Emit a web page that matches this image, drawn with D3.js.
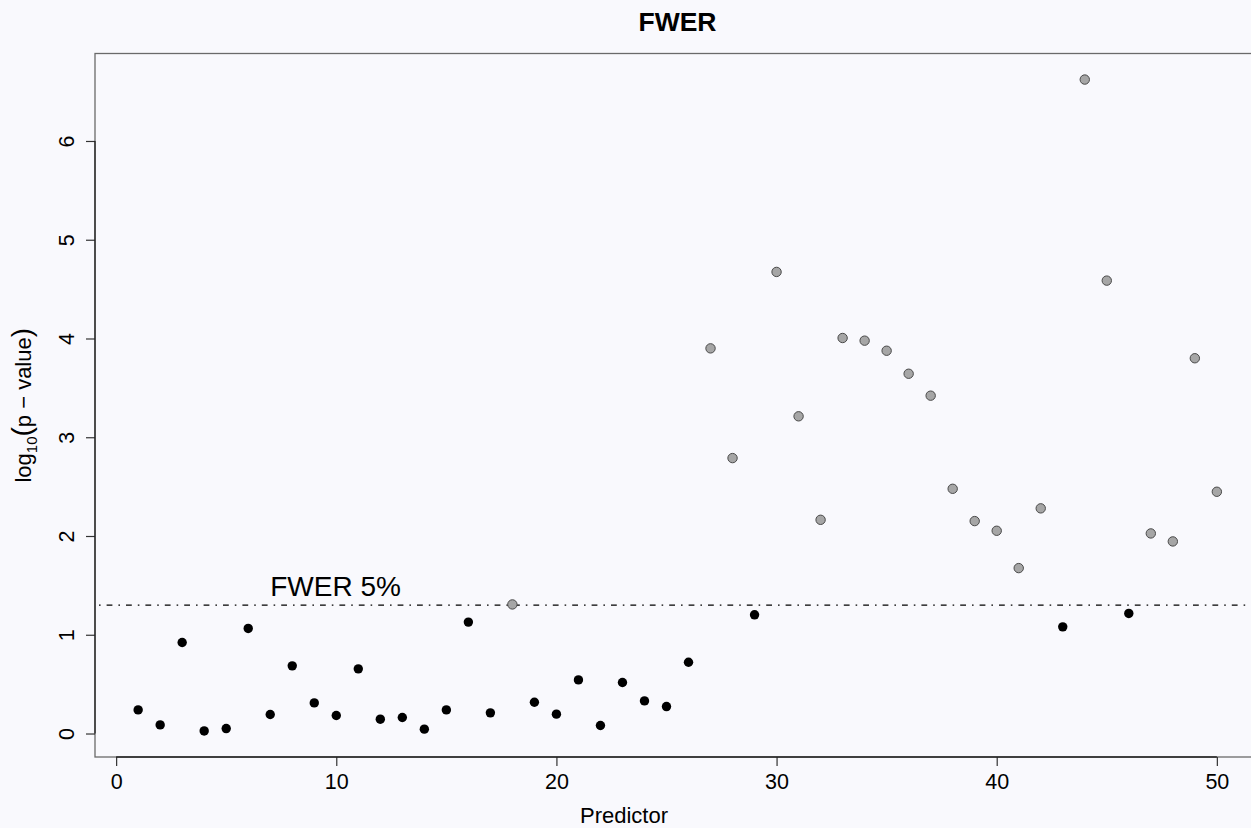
<!DOCTYPE html>
<html>
<head>
  <meta charset="utf-8">
  <title>FWER</title>
  <!-- Load D3-->
  <script src="https://d3js.org/d3.v7.min.js"></script>
  <style>
    body { margin: 0; background: #f9f9fd; }
    text { font-family: "Liberation Sans", Arial, Helvetica, sans-serif; fill: #000; }
  </style>
</head>
<body>
  <div id="viz"></div>
  <script>

    // data
    var predictor = [1, 2, 3, 4, 5, 6, 7, 8, 9, 10,
      11, 12, 13, 14, 15, 16, 17, 18, 19, 20,
      21, 22, 23, 24, 25, 26, 27, 28, 29, 30,
      31, 32, 33, 34, 35, 36, 37, 38, 39, 40,
      41, 42, 43, 44, 45, 46, 47, 48, 49, 50];

    var logp = [0.239, 0.087, 0.922, 0.026, 0.050, 1.064, 0.192, 0.685, 0.310, 0.182,
      0.655, 0.145, 0.162, 0.044, 0.239, 1.128, 0.209, 1.307, 0.317, 0.196,
      0.543, 0.081, 0.517, 0.330, 0.273, 0.722, 3.900, 2.789, 1.202, 4.674,
      3.212, 2.164, 4.005, 3.978, 3.876, 3.643, 3.421, 2.478, 2.151, 2.053,
      1.675, 2.280, 1.080, 6.622, 4.586, 1.216, 2.026, 1.945, 3.800, 2.448];

    var threshold = 1.301; // -log10(0.05)
    var xTicks = [0, 10, 20, 30, 40, 50];
    var yTicks = [0, 1, 2, 3, 4, 5, 6];

    var data = predictor.map(function (p, i) { return { x: p, y: logp[i] }; });

    var width = 1251, height = 828;

    var svg = d3.select("#viz")
      .append("svg")
      .attr("width", width)
      .attr("height", height);

    // R style 4% padding on the ranges
    var xe = d3.extent(predictor), ye = d3.extent(logp);
    var xp = (xe[1] - xe[0]) * 0.04, yp = (ye[1] - ye[0]) * 0.04;

    var x = d3.scaleLinear()
      .domain([xe[0] - xp, xe[1] + xp])
      .range([95, 1260]);

    var y = d3.scaleLinear()
      .domain([ye[0] - yp, ye[1] + yp])
      .range([757, 53.5]);

    // plot box
    svg.append("rect")
      .attr("x", x.range()[0])
      .attr("y", y.range()[1])
      .attr("width", x.range()[1] - x.range()[0])
      .attr("height", y.range()[0] - y.range()[1])
      .attr("fill", "none")
      .attr("stroke", "#6a6a6a")
      .attr("stroke-width", 1.3);

    // x axis
    var gx = svg.append("g")
      .attr("transform", "translate(0," + y.range()[0] + ")")
      .call(d3.axisBottom(x).tickValues(xTicks).tickSize(9).tickPadding(8).tickSizeOuter(0));
    gx.select(".domain").remove();
    gx.selectAll(".tick line").attr("stroke", "#333").attr("stroke-width", 1.2);
    gx.selectAll("text").style("font-size", "21.5px").attr("font-family", null);
    gx.append("line")
      .attr("x1", x(xTicks[0])).attr("x2", x(xTicks[xTicks.length - 1]))
      .attr("stroke", "#222").attr("stroke-width", 1.3);

    // y axis, labels turned like R's las = 0
    var gy = svg.append("g")
      .attr("transform", "translate(" + x.range()[0] + ",0)")
      .call(d3.axisLeft(y).tickValues(yTicks).tickSize(9).tickSizeOuter(0));
    gy.select(".domain").remove();
    gy.selectAll(".tick line").attr("stroke", "#333").attr("stroke-width", 1.2);
    gy.selectAll("text")
      .attr("transform", "rotate(-90)")
      .attr("x", 0)
      .attr("y", -21)
      .attr("dy", 0)
      .attr("text-anchor", "middle")
      .attr("font-family", null)
      .style("font-size", "21.5px");
    gy.append("line")
      .attr("y1", y(yTicks[0])).attr("y2", y(yTicks[yTicks.length - 1]))
      .attr("stroke", "#222").attr("stroke-width", 1.3);

    // threshold line
    svg.append("line")
      .attr("x1", x.range()[0] + 4)
      .attr("x2", x.range()[1])
      .attr("y1", y(threshold))
      .attr("y2", y(threshold))
      .attr("stroke", "#000")
      .attr("stroke-width", 1.3)
      .attr("stroke-dasharray", "1.6,6,5.8,6");

    svg.append("text")
      .attr("x", x(7))
      .attr("y", y(threshold) - 9)
      .style("font-size", "28px")
      .text("FWER 5%");

    // points
    svg.selectAll("circle.pt")
      .data(data)
      .enter()
      .append("circle")
      .attr("class", "pt")
      .attr("cx", function (d) { return x(d.x); })
      .attr("cy", function (d) { return y(d.y); })
      .attr("r", 4.7)
      .attr("fill", function (d) { return d.y > threshold ? "#a6a6a6" : "#000"; })
      .attr("stroke", function (d) { return d.y > threshold ? "#4a4a4a" : "none"; })
      .attr("stroke-width", 1);

    // title and axis labels
    svg.append("text")
      .attr("x", (x.range()[0] + x.range()[1]) / 2)
      .attr("y", 31)
      .attr("text-anchor", "middle")
      .style("font-size", "26.5px")
      .style("font-weight", "bold")
      .text("FWER");

    svg.append("text")
      .attr("x", 624)
      .attr("y", 823)
      .attr("text-anchor", "middle")
      .style("font-size", "22px")
      .text("Predictor");

    var yl = svg.append("text")
      .attr("transform", "translate(31," + (y.range()[0] + y.range()[1]) / 2 + ") rotate(-90)")
      .attr("text-anchor", "middle")
      .style("font-size", "22px");
    yl.append("tspan").text("log");
    yl.append("tspan").attr("dy", 6).style("font-size", "15px").text("10");
    yl.append("tspan").attr("dy", -6).style("font-size", "28px").text("(");
    yl.append("tspan").text("p \u2212 value");
    yl.append("tspan").style("font-size", "28px").text(")");

  </script>
</body>
</html>
